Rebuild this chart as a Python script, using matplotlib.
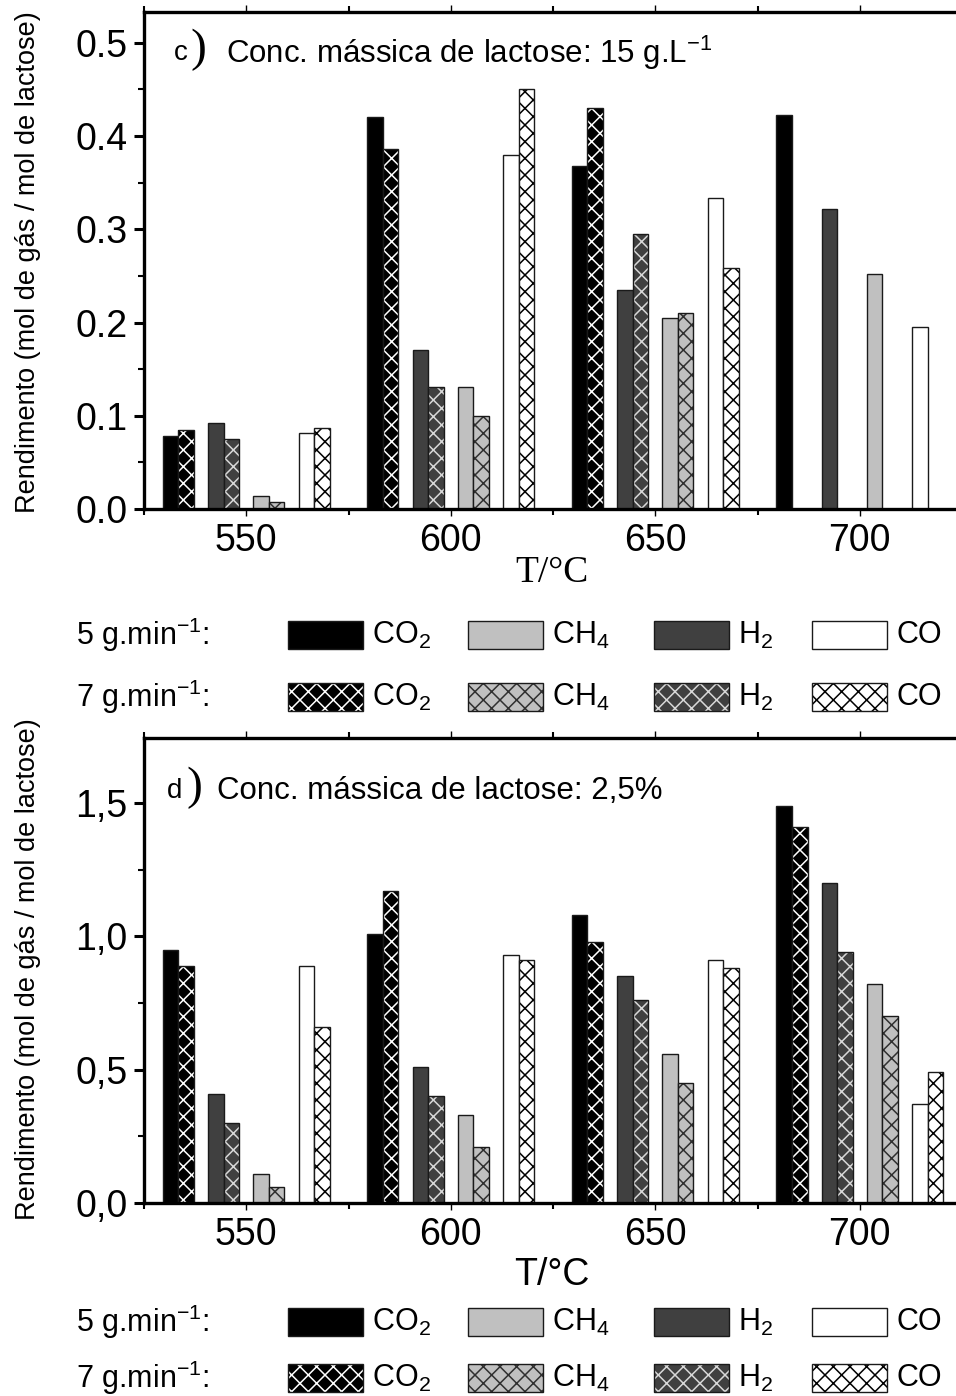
import numpy as np
import matplotlib.pyplot as plt
from matplotlib.patches import Rectangle
from matplotlib.ticker import MultipleLocator, FuncFormatter

# temperatures (°C)
temps = [550, 600, 650, 700]
gases = ['CO2', 'H2', 'CH4', 'CO']

# c) lactose 15 g/L -- yields (mol gas / mol lactose)
c_co2_5 = [0.078, 0.420, 0.368, 0.423]
c_co2_7 = [0.085, 0.386, 0.430, np.nan]
c_h2_5 = [0.092, 0.171, 0.235, 0.322]
c_h2_7 = [0.075, 0.131, 0.295, np.nan]
c_ch4_5 = [0.014, 0.131, 0.205, 0.252]
c_ch4_7 = [0.008, 0.100, 0.210, np.nan]
c_co_5 = [0.082, 0.380, 0.334, 0.195]
c_co_7 = [0.087, 0.450, 0.258, np.nan]

# d) lactose 2,5 %
d_co2_5 = [0.95, 1.01, 1.08, 1.49]
d_co2_7 = [0.89, 1.17, 0.98, 1.41]
d_h2_5 = [0.41, 0.51, 0.85, 1.20]
d_h2_7 = [0.30, 0.40, 0.76, 0.94]
d_ch4_5 = [0.11, 0.33, 0.56, 0.82]
d_ch4_7 = [0.06, 0.21, 0.45, 0.70]
d_co_5 = [0.89, 0.93, 0.91, 0.37]
d_co_7 = [0.66, 0.91, 0.88, 0.49]

legend_order = ['CO2', 'CH4', 'H2', 'CO']
legend_text = {'CO2': r'CO$_\mathregular{2}$', 'CH4': r'CH$_\mathregular{4}$',
               'H2': r'H$_\mathregular{2}$', 'CO': 'CO'}

# styles: fill colour, hatch colour
fill = {'CO2': '#000000', 'H2': '#404040', 'CH4': '#c0c0c0', 'CO': '#ffffff'}
hcol = {'CO2': '#ffffff', 'H2': '#d8d8d8', 'CH4': '#303030', 'CO': '#000000'}
offset = {'CO2': -16.6, 'H2': -5.5, 'CH4': 5.5, 'CO': 16.6}
W = 3.8

plt.rcParams['font.family'] = ['Liberation Sans', 'DejaVu Sans']
plt.rcParams['mathtext.fontset'] = 'custom'
plt.rcParams['mathtext.rm'] = 'Liberation Sans'
plt.rcParams['mathtext.it'] = 'Liberation Sans:italic'
plt.rcParams['hatch.linewidth'] = 1.1

FW, FH = 956, 1396
fig = plt.figure(figsize=(FW / 100, FH / 100), dpi=100)


def fx(px):
    return px / FW


def fy(py):
    return 1 - py / FH


def draw_bars(ax, series5, series7):
    x = np.array(temps, dtype=float)
    for g in gases:
        xs = x + offset[g]
        ax.bar(xs - W / 2, series5[g], W, color=fill[g], edgecolor='#1a1a1a', linewidth=1.0)
        ax.bar(xs + W / 2, series7[g], W, color=fill[g], edgecolor=hcol[g], linewidth=0, hatch='xx')
        ax.bar(xs + W / 2, series7[g], W, fill=False, edgecolor='#1a1a1a', linewidth=1.0)


def style_axes(ax, ymax, major, fmt):
    ax.set_xlim(525, 723.5)
    ax.set_ylim(0, ymax)
    ax.spines['right'].set_visible(False)
    for s in ['left', 'top', 'bottom']:
        ax.spines[s].set_linewidth(2.4)
    ax.set_xticks(temps)
    ax.xaxis.set_minor_locator(MultipleLocator(25))
    ax.yaxis.set_major_locator(MultipleLocator(major))
    ax.yaxis.set_minor_locator(MultipleLocator(major / 2))
    ax.yaxis.set_major_formatter(FuncFormatter(fmt))
    ax.tick_params(axis='both', which='major', direction='out', length=7, width=2.2, labelsize=27, pad=5)
    ax.tick_params(axis='both', which='minor', direction='out', length=4, width=1.5)
    ax.tick_params(axis='x', top=True, which='both', labeltop=False)
    ax.tick_params(axis='x', which='major', top=True, length=5, width=1)


def draw_legend(y1, y2):
    xs = [288, 468, 654, 812]
    for row, yy, lab in [(0, y1, '5 g.min$^{-1}$:'), (1, y2, '7 g.min$^{-1}$:')]:
        fig.text(fx(76), fy(yy), lab, fontsize=22, va='center', ha='left')
        for g, px in zip(legend_order, xs):
            if row == 0:
                fig.add_artist(Rectangle((fx(px), fy(yy + 14)), fx(75), 28 / FH,
                                         transform=fig.transFigure, facecolor=fill[g],
                                         edgecolor='#1a1a1a', linewidth=1.0))
            else:
                fig.add_artist(Rectangle((fx(px), fy(yy + 14)), fx(75), 28 / FH,
                                         transform=fig.transFigure, facecolor=fill[g],
                                         edgecolor=hcol[g], linewidth=0, hatch='xx'))
                fig.add_artist(Rectangle((fx(px), fy(yy + 14)), fx(75), 28 / FH,
                                         transform=fig.transFigure, fill=False,
                                         edgecolor='#1a1a1a', linewidth=1.0))
            fig.text(fx(px + 84), fy(yy), legend_text[g], fontsize=22, va='center', ha='left')


ylab = 'Rendimento (mol de gás / mol de lactose)'
yfam = ['Liberation Sans Narrow', 'Liberation Sans', 'DejaVu Sans']

# ---- panel c
ax1 = fig.add_axes([fx(144), fy(509), 1 - fx(144), (509 - 12) / FH])
draw_bars(ax1,
          {'CO2': c_co2_5, 'H2': c_h2_5, 'CH4': c_ch4_5, 'CO': c_co_5},
          {'CO2': c_co2_7, 'H2': c_h2_7, 'CH4': c_ch4_7, 'CO': c_co_7})
style_axes(ax1, 0.533, 0.1, lambda v, p: f'{v:.1f}')
fig.text(fx(28), fy(262), ylab, rotation=90, fontsize=19.5, va='center', ha='center', family=yfam)
fig.text(fx(174), fy(53), 'c', fontsize=20, va='center', ha='left')
fig.text(fx(190), fy(50), ')', fontsize=34, va='center', ha='left', family='Liberation Serif')
fig.text(fx(226), fy(53), 'Conc. mássica de lactose: 15 g.L$^{-1}$', fontsize=22.5,
         va='center', ha='left', family=yfam)
fig.text(fx(552), fy(573), 'T/°C', fontsize=27, va='center', ha='center', family='Liberation Serif')
draw_legend(635, 697)

# ---- panel d
ax2 = fig.add_axes([fx(144), fy(1203), 1 - fx(144), (1203 - 738) / FH])
draw_bars(ax2,
          {'CO2': d_co2_5, 'H2': d_h2_5, 'CH4': d_ch4_5, 'CO': d_co_5},
          {'CO2': d_co2_7, 'H2': d_h2_7, 'CH4': d_ch4_7, 'CO': d_co_7})
style_axes(ax2, 1.744, 0.5, lambda v, p: f'{v:.1f}'.replace('.', ','))
fig.text(fx(28), fy(969), ylab, rotation=90, fontsize=19.5, va='center', ha='center', family=yfam)
fig.text(fx(167), fy(791), 'd', fontsize=20, va='center', ha='left')
fig.text(fx(186), fy(788), ')', fontsize=34, va='center', ha='left', family='Liberation Serif')
fig.text(fx(217), fy(791), 'Conc. mássica de lactose: 2,5%', fontsize=22.5,
         va='center', ha='left', family=yfam)
fig.text(fx(552), fy(1275), 'T/°C', fontsize=27, va='center', ha='center')
draw_legend(1322, 1378)

fig.savefig('out.png', dpi=100)
